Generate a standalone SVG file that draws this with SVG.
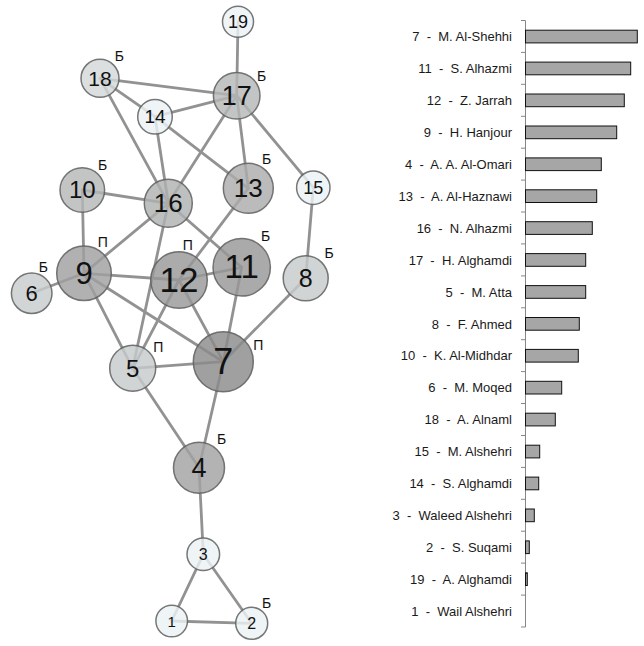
<svg xmlns="http://www.w3.org/2000/svg" width="644" height="646" viewBox="0 0 644 646">
<style>
.e{stroke:#929292;stroke-width:2.8;fill:none;stroke-linecap:round}
.n circle{stroke:#5f5f5f;stroke-width:1.5;stroke-opacity:0.85;fill-opacity:0.82}
.n text{font-family:"Liberation Sans",Arial,sans-serif;fill:#111;text-anchor:middle}
.n text.m{font-size:14px;fill:#111}
.lt{fill:#ecf3f5}
.bl{font-family:"Liberation Sans",Arial,sans-serif;font-size:13px;fill:#1a1a1a;text-anchor:end;white-space:pre}
.bar{fill:#a6a6a6;stroke:#111;stroke-width:1}
.ax{stroke:#868686;stroke-width:1;fill:none}
</style>
<rect width="644" height="646" fill="#fff"/>
<g id="connectors">
<line class="e" x1="238" y1="21.7" x2="236.7" y2="95.7"/>
<line class="e" x1="100" y1="78.3" x2="236.7" y2="95.7"/>
<line class="e" x1="100" y1="78.3" x2="155" y2="116.7"/>
<line class="e" x1="100" y1="78.3" x2="168.3" y2="203.3"/>
<line class="e" x1="155" y1="116.7" x2="236.7" y2="95.7"/>
<line class="e" x1="155" y1="116.7" x2="168.3" y2="203.3"/>
<line class="e" x1="155" y1="116.7" x2="248.3" y2="188.3"/>
<line class="e" x1="236.7" y1="95.7" x2="168.3" y2="203.3"/>
<line class="e" x1="236.7" y1="95.7" x2="248.3" y2="188.3"/>
<line class="e" x1="236.7" y1="95.7" x2="313.3" y2="187.7"/>
<line class="e" x1="82.3" y1="190" x2="168.3" y2="203.3"/>
<line class="e" x1="82.3" y1="190" x2="84" y2="273.3"/>
<line class="e" x1="168.3" y1="203.3" x2="84" y2="273.3"/>
<line class="e" x1="168.3" y1="203.3" x2="241.7" y2="267.3"/>
<line class="e" x1="168.3" y1="203.3" x2="132.7" y2="368.3"/>
<line class="e" x1="248.3" y1="188.3" x2="179" y2="280"/>
<line class="e" x1="313.3" y1="187.7" x2="305.7" y2="278.3"/>
<line class="e" x1="84" y1="273.3" x2="31.7" y2="293.3"/>
<line class="e" x1="84" y1="273.3" x2="179" y2="280"/>
<line class="e" x1="84" y1="273.3" x2="132.7" y2="368.3"/>
<line class="e" x1="84" y1="273.3" x2="223.3" y2="361.7"/>
<line class="e" x1="179" y1="280" x2="241.7" y2="267.3"/>
<line class="e" x1="179" y1="280" x2="132.7" y2="368.3"/>
<line class="e" x1="179" y1="280" x2="223.3" y2="361.7"/>
<line class="e" x1="241.7" y1="267.3" x2="223.3" y2="361.7"/>
<line class="e" x1="305.7" y1="278.3" x2="223.3" y2="361.7"/>
<line class="e" x1="132.7" y1="368.3" x2="223.3" y2="361.7"/>
<line class="e" x1="132.7" y1="368.3" x2="199" y2="467.7"/>
<line class="e" x1="223.3" y1="361.7" x2="199" y2="467.7"/>
<line class="e" x1="199" y1="467.7" x2="203.3" y2="554.3"/>
<line class="e" x1="203.3" y1="554.3" x2="171.7" y2="621"/>
<line class="e" x1="203.3" y1="554.3" x2="251.7" y2="623.3"/>
<line class="e" x1="171.7" y1="621" x2="251.7" y2="623.3"/>
</g>
<g id="node-19" class="n"><circle class="lt" cx="238" cy="21.7" r="15.5"/><text x="238" y="28" font-size="18">19</text></g>
<g id="node-18" class="n"><circle cx="100" cy="78.3" r="19" fill="#d3d8d9"/><text x="100" y="85.6" font-size="21">18</text><text class="m" x="119.3" y="60.7">Б</text></g>
<g id="node-17" class="n"><circle cx="236.7" cy="95.7" r="23.3" fill="#b6b8b8"/><text x="236.7" y="104.7" font-size="27">17</text><text class="m" x="261.7" y="80.7">Б</text></g>
<g id="node-14" class="n"><circle class="lt" cx="155" cy="116.7" r="17.3"/><text x="155" y="123.3" font-size="19">14</text></g>
<g id="node-10" class="n"><circle cx="82.3" cy="190" r="22.3" fill="#b6b8b8"/><text x="82.3" y="198" font-size="24">10</text><text class="m" x="102.7" y="170">Б</text></g>
<g id="node-16" class="n"><circle cx="168.3" cy="203.3" r="24" fill="#b0b1b1"/><text x="168.3" y="212.3" font-size="26">16</text></g>
<g id="node-13" class="n"><circle cx="248.3" cy="188.3" r="25" fill="#acacac"/><text x="248.3" y="197.3" font-size="26">13</text><text class="m" x="266.7" y="164.3">Б</text></g>
<g id="node-15" class="n"><circle class="lt" cx="313.3" cy="187.7" r="16.7"/><text x="313.3" y="194" font-size="18">15</text></g>
<g id="node-9" class="n"><circle cx="84" cy="273.3" r="27.3" fill="#a0a0a0"/><text x="84" y="283.5" font-size="31">9</text><text class="m" x="102.7" y="246.7">П</text></g>
<g id="node-6" class="n"><circle cx="31.7" cy="293.3" r="20.3" fill="#c8cccc"/><text x="31.7" y="301" font-size="22">6</text><text class="m" x="43.3" y="271.7">Б</text></g>
<g id="node-12" class="n"><circle cx="179" cy="280" r="28.3" fill="#999999"/><text x="179" y="291.5" font-size="35">12</text><text class="m" x="187.7" y="250">П</text></g>
<g id="node-11" class="n"><circle cx="241.7" cy="267.3" r="28.7" fill="#979797"/><text x="241.7" y="278.3" font-size="33">11</text><text class="m" x="265.7" y="241">Б</text></g>
<g id="node-8" class="n"><circle cx="305.7" cy="278.3" r="22.5" fill="#c6caca"/><text x="305.7" y="286.8" font-size="25">8</text><text class="m" x="329" y="257.5">Б</text></g>
<g id="node-5" class="n"><circle cx="132.7" cy="368.3" r="23" fill="#c6caca"/><text x="132.7" y="376.5" font-size="24">5</text><text class="m" x="158.3" y="352.3">П</text></g>
<g id="node-7" class="n"><circle cx="223.3" cy="361.7" r="30" fill="#8b8b8b"/><text x="223.3" y="373.5" font-size="36">7</text><text class="m" x="258.3" y="350">П</text></g>
<g id="node-4" class="n"><circle cx="199" cy="467.7" r="25.5" fill="#a2a2a2"/><text x="199" y="477" font-size="27">4</text><text class="m" x="221.7" y="444.3">Б</text></g>
<g id="node-3" class="n"><circle class="lt" cx="203.3" cy="554.3" r="16.3"/><text x="203.3" y="560" font-size="16">3</text></g>
<g id="node-1" class="n"><circle class="lt" cx="171.7" cy="621" r="15.8"/><text x="171.7" y="626.5" font-size="15">1</text></g>
<g id="node-2" class="n"><circle class="lt" cx="251.7" cy="623.3" r="16"/><text x="251.7" y="629" font-size="16">2</text><text class="m" x="266.7" y="607.7">Б</text></g>
<g id="chart">
<line class="ax" x1="525.5" y1="20.5" x2="525.5" y2="627"/>
<path class="ax" d="M521 20.5H525.5M521 52.4H525.5M521 84.3H525.5M521 116.3H525.5M521 148.2H525.5M521 180.1H525.5M521 212H525.5M521 243.9H525.5M521 275.9H525.5M521 307.8H525.5M521 339.7H525.5M521 371.6H525.5M521 403.5H525.5M521 435.5H525.5M521 467.4H525.5M521 499.3H525.5M521 531.2H525.5M521 563.1H525.5M521 595.1H525.5M521 627H525.5"/>
<rect class="bar" x="525.5" y="30.2" width="111.8" height="12.7"/>
<rect class="bar" x="525.5" y="62.1" width="105.2" height="12.7"/>
<rect class="bar" x="525.5" y="94.0" width="98.8" height="12.7"/>
<rect class="bar" x="525.5" y="126.0" width="91.2" height="12.7"/>
<rect class="bar" x="525.5" y="157.9" width="75.8" height="12.7"/>
<rect class="bar" x="525.5" y="189.8" width="71.2" height="12.7"/>
<rect class="bar" x="525.5" y="221.7" width="66.8" height="12.7"/>
<rect class="bar" x="525.5" y="253.6" width="60.2" height="12.7"/>
<rect class="bar" x="525.5" y="285.6" width="60.2" height="12.7"/>
<rect class="bar" x="525.5" y="317.5" width="53.8" height="12.7"/>
<rect class="bar" x="525.5" y="349.4" width="52.8" height="12.7"/>
<rect class="bar" x="525.5" y="381.3" width="36.2" height="12.7"/>
<rect class="bar" x="525.5" y="413.2" width="29.8" height="12.7"/>
<rect class="bar" x="525.5" y="445.2" width="14.2" height="12.7"/>
<rect class="bar" x="525.5" y="477.1" width="13.2" height="12.7"/>
<rect class="bar" x="525.5" y="509.0" width="8.8" height="12.7"/>
<rect class="bar" x="525.5" y="540.9" width="3.8" height="12.7"/>
<rect class="bar" x="525.5" y="572.8" width="1.8" height="12.7"/>
<g xml:space="preserve">
<text class="bl" x="512" y="41.2">7  -  M. Al-Shehhi</text>
<text class="bl" x="512" y="73.1">11  -  S. Alhazmi</text>
<text class="bl" x="512" y="105.0">12  -  Z. Jarrah</text>
<text class="bl" x="512" y="137.0">9  -  H. Hanjour</text>
<text class="bl" x="512" y="168.9">4  -  A. A. Al-Omari</text>
<text class="bl" x="512" y="200.8">13  -  A. Al-Haznawi</text>
<text class="bl" x="512" y="232.7">16  -  N. Alhazmi</text>
<text class="bl" x="512" y="264.6">17  -  H. Alghamdi</text>
<text class="bl" x="512" y="296.6">5  -  M. Atta</text>
<text class="bl" x="512" y="328.5">8  -  F. Ahmed</text>
<text class="bl" x="512" y="360.4">10  -  K. Al-Midhdar</text>
<text class="bl" x="512" y="392.3">6  -  M. Moqed</text>
<text class="bl" x="512" y="424.2">18  -  A. Alnaml</text>
<text class="bl" x="512" y="456.2">15  -  M. Alshehri</text>
<text class="bl" x="512" y="488.1">14  -  S. Alghamdi</text>
<text class="bl" x="512" y="520.0">3  -  Waleed Alshehri</text>
<text class="bl" x="512" y="551.9">2  -  S. Suqami</text>
<text class="bl" x="512" y="583.8">19  -  A. Alghamdi</text>
<text class="bl" x="512" y="615.8">1  -  Wail Alshehri</text>
</g>
</g>
</svg>
